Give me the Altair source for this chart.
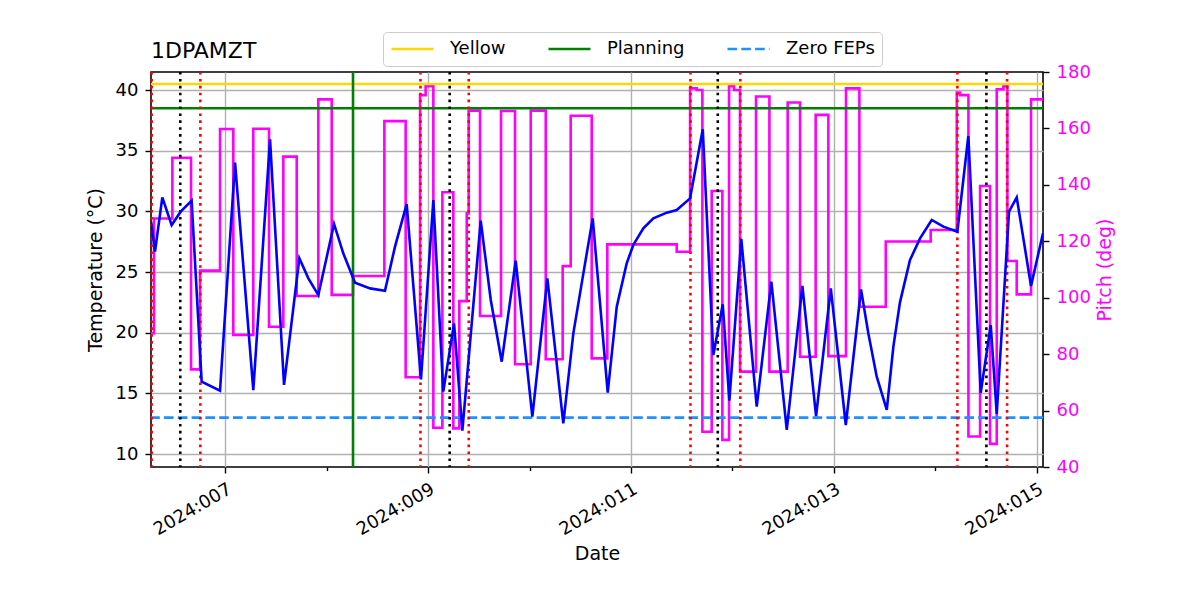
import altair as alt
import pandas as pd

# ---------------- data ----------------
# 1DPAMZT temperature (day-of-year 2024, degC)
temp_doy = [6.2675, 6.307, 6.379, 6.471, 6.560, 6.668, 6.767, 6.948, 7.096, 7.276,
            7.441, 7.579, 7.730, 7.819, 7.917, 8.072, 8.163, 8.279, 8.427, 8.574,
            8.673, 8.788, 8.929, 9.051, 9.149, 9.255, 9.337, 9.518, 9.617, 9.725,
            9.863, 10.027, 10.175, 10.332, 10.431, 10.530, 10.622, 10.770, 10.859, 10.957,
            11.022, 11.121, 11.220, 11.352, 11.450, 11.582, 11.707, 11.811, 11.904, 11.969,
            12.087, 12.239, 12.383, 12.535, 12.689, 12.824, 12.969, 13.117, 13.267, 13.339,
            13.422, 13.521, 13.586, 13.651, 13.750, 13.849, 13.964, 14.079, 14.217, 14.325,
            14.447, 14.546, 14.605, 14.726, 14.802, 14.943, 15.061]
temp_degc = [29.15, 26.68, 31.15, 28.87, 29.97, 30.88, 15.96, 15.22, 34.01, 15.27,
             35.93, 15.69, 26.13, 24.48, 23.10, 28.96, 26.54, 24.12, 23.65, 23.46,
             27.09, 30.60, 16.15, 30.93, 15.14, 20.77, 11.92, 29.23, 22.69, 17.61,
             25.93, 13.08, 24.48, 12.53, 19.94, 24.89, 29.42, 15.05, 22.14, 25.71,
             27.23, 28.60, 29.42, 29.89, 30.11, 31.07, 36.76, 18.16, 22.34, 14.40,
             27.72, 13.90, 24.20, 11.98, 23.85, 13.13, 23.65, 12.39, 23.57, 19.95,
             16.37, 13.63, 18.85, 22.50, 25.99, 27.77, 29.29, 28.74, 28.32, 36.21,
             15.05, 20.63, 13.30, 29.97, 31.15, 23.85, 28.19]

# Pitch (deg): value holds from each time until the next one
pitch_doy = [6.2675, 6.297, 6.478, 6.662, 6.751, 6.948, 7.079, 7.276, 7.431, 7.572,
             7.704, 7.917, 8.049, 8.259, 8.568, 8.778, 8.920, 8.975, 9.051, 9.140,
             9.248, 9.307, 9.380, 9.399, 9.511, 9.718, 9.856, 10.011, 10.159, 10.326,
             10.405, 10.612, 10.766, 11.450, 11.582, 11.647, 11.703, 11.795, 11.900, 11.966,
             12.015, 12.074, 12.232, 12.364, 12.544, 12.666, 12.820, 12.945, 13.119, 13.251,
             13.511, 13.954, 14.211, 14.243, 14.326, 14.441, 14.539, 14.605, 14.671, 14.710,
             14.802, 14.943, 15.061]
pitch_deg = [87.4, 128.1, 149.6, 74.6, 109.6, 159.8, 86.8, 159.9, 89.7, 150.0,
             100.6, 170.3, 101.0, 107.7, 162.6, 71.8, 171.8, 175.0, 53.9, 137.4,
             53.7, 98.8, 129.9, 166.3, 93.5, 166.2, 76.4, 166.3, 78.2, 111.2,
             164.5, 78.5, 118.9, 116.3, 174.2, 173.6, 52.5, 137.8, 49.6, 175.0,
             173.6, 73.8, 171.3, 73.8, 169.2, 79.1, 164.8, 79.3, 174.2, 96.8,
             119.9, 124.0, 172.7, 171.8, 50.8, 139.6, 48.2, 173.9, 175.0, 113.0,
             101.2, 170.3, 170.3]

red_doy = [6.274, 6.754, 8.924, 9.400, 11.586, 12.077, 14.217, 14.707]
black_doy = [6.556, 9.212, 11.855, 14.503]
green_doy = [8.259]

limit_names = ["Yellow", "Planning", "Zero FEPs"]
limit_degc = [40.5, 38.5, 13.0]
limit_colors = ["#ffd700", "#008000", "#1e90ff"]
limit_dashes = [[1, 0], [1, 0], [9.6, 4.2]]

tick_days = [7, 8, 9, 10, 11, 12, 13, 14, 15]
temp_ticks = [10, 15, 20, 25, 30, 35, 40]
pitch_ticks = [40, 60, 80, 100, 120, 140, 160, 180]

# ---------------- helpers ----------------
BASE = pd.Timestamp("2024-01-01")


def doy_to_iso(values):
    return [(BASE + pd.to_timedelta(v - 1, unit="D")).strftime("%Y-%m-%dT%H:%M:%S")
            for v in values]


temp_df = pd.DataFrame({"time": doy_to_iso(temp_doy), "temp": temp_degc})
pitch_df = pd.DataFrame({"time": doy_to_iso(pitch_doy), "pitch": pitch_deg})
red_df = pd.DataFrame({"time": doy_to_iso(red_doy)})
black_df = pd.DataFrame({"time": doy_to_iso(black_doy)})
green_df = pd.DataFrame({"time": doy_to_iso(green_doy)})
limit_df = pd.DataFrame({"name": limit_names, "value": limit_degc})

FONT = "DejaVu Sans"
GRID = "#b0b0b0"
MAGENTA = "#ff00ff"
ODD = "date(datum.value) % 2 == 1"
LW = 2.6

x_scale = alt.Scale(
    domain=[alt.DateTime(year=2024, month=1, date=6, hours=6, minutes=25, seconds=12),
            alt.DateTime(year=2024, month=1, date=15, hours=1, minutes=28)],
    nice=False,
)
x_axis = alt.Axis(
    title="Date",
    values=[alt.DateTime(year=2024, month=1, date=d) for d in tick_days],
    labelExpr=ODD + " ? timeFormat(datum.value, '%Y:%j') : ''",
    labelAngle=330, labelAlign="right", labelBaseline="top", labelPadding=7,
    labelOverlap=False, labelFlush=False,
    tickSize={"condition": {"test": ODD, "value": 6}, "value": 3.5},
    gridOpacity={"condition": {"test": ODD, "value": 1}, "value": 0},
    grid=True, gridColor=GRID, gridWidth=1.4,
    tickColor="black", tickWidth=1.4, domain=False, titlePadding=6,
)
X = alt.X("time:T", scale=x_scale, axis=x_axis)

temp_scale = alt.Scale(domain=[8.929, 41.484], nice=False, zero=False)
temp_axis = alt.Axis(
    title="Temperature (°C)", orient="left", values=temp_ticks,
    grid=True, gridColor=GRID, gridWidth=1.4,
    tickSize=6, tickWidth=1.4, tickColor="black",
    labelPadding=7, titlePadding=10, domain=False,
)
pitch_scale = alt.Scale(domain=[40, 180], nice=False, zero=False)
pitch_axis = alt.Axis(
    title="Pitch (deg)", orient="right", values=pitch_ticks, grid=False,
    labelColor=MAGENTA, titleColor=MAGENTA,
    tickSize=6, tickWidth=1.4, tickColor="black",
    labelPadding=7, titlePadding=5, titleAngle=270, titleBaseline="top", domain=False,
)

pitch_layer = alt.Chart(pitch_df).mark_line(
    interpolate="step-after", color=MAGENTA, strokeWidth=LW, clip=True
).encode(x=X, y=alt.Y("pitch:Q", scale=pitch_scale, axis=pitch_axis))

legend = alt.Legend(
    title=None, orient="none", legendX=232, legendY=-40, direction="horizontal",
    symbolType="stroke", symbolSize=1764, symbolStrokeWidth=LW,
    labelFontSize=18, labelFont=FONT, labelOffset=15, columnPadding=41,
    padding=7, clipHeight=20, strokeColor="#cccccc", fillColor="white", cornerRadius=4,
)
limit_layer = alt.Chart(limit_df).mark_rule(strokeWidth=LW).encode(
    y=alt.Y("value:Q", scale=temp_scale, axis=temp_axis),
    color=alt.Color("name:N", scale=alt.Scale(domain=limit_names, range=limit_colors),
                    legend=legend),
    strokeDash=alt.StrokeDash("name:N",
                              scale=alt.Scale(domain=limit_names, range=limit_dashes),
                              legend=legend),
)

red_layer = alt.Chart(red_df).mark_rule(
    color="red", strokeWidth=LW, strokeDash=[2.6, 4.3]
).encode(x=X)
black_layer = alt.Chart(black_df).mark_rule(
    color="black", strokeWidth=LW, strokeDash=[2.6, 4.3]
).encode(x=X)
green_layer = alt.Chart(green_df).mark_rule(color="green", strokeWidth=LW).encode(x=X)

temp_layer = alt.Chart(temp_df).mark_line(color="blue", strokeWidth=LW, clip=True).encode(
    x=X, y=alt.Y("temp:Q", scale=temp_scale, axis=temp_axis)
)

left_group = alt.layer(limit_layer, red_layer, black_layer, green_layer, temp_layer)

chart = (
    alt.layer(pitch_layer, left_group)
    .resolve_scale(y="independent")
    .properties(
        width=892, height=395,
        autosize=alt.AutoSizeParams(type="none"),
        padding={"left": 143, "top": 64, "right": 149, "bottom": 125},
        title=alt.TitleParams("1DPAMZT", anchor="start", frame="group", fontSize=22,
                              font=FONT, fontWeight="normal", color="black",
                              baseline="alphabetic", offset=14, dy=62),
    )
    .configure(font=FONT)
    .configure_axis(labelFont=FONT, titleFont=FONT, labelFontSize=18, titleFontSize=19,
                    titleFontWeight="normal")
    .configure_view(stroke="black", strokeWidth=1.6)
)

chart.save("out.html", embed_options={"renderer": "svg", "actions": False})
